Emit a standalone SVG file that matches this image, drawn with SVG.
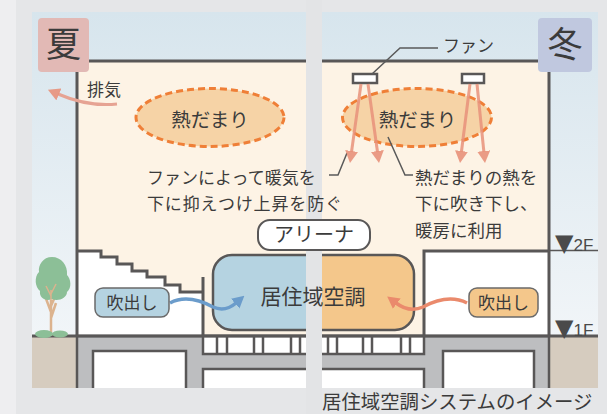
<svg xmlns="http://www.w3.org/2000/svg" width="607" height="414" viewBox="0 0 607 414">
  <style>
    text { font-family: "Noto Sans CJK JP", "Noto Sans", sans-serif; fill: #3b3b3b; }
    .wall { fill: none; stroke: #595757; stroke-width: 3; }
    .thin { fill: none; stroke: #595757; stroke-width: 1.6; }
    .leader { fill: none; stroke: #5a5a5a; stroke-width: 1.5; }
    .heat { fill: #f6d3a6; stroke: #ef7f37; stroke-width: 3; stroke-dasharray: 7 4; }
    .fan { fill: #ffffff; stroke: #595757; stroke-width: 2.5; }
    .pinkArrow { fill: none; stroke: #e8917a; stroke-width: 3; stroke-opacity: 0.85; }
    .cell { stroke: #595757; stroke-width: 2.5; }
    .tag { stroke: #6a6a6a; stroke-width: 1.5; }
    .level { font-family: "Liberation Sans", "DejaVu Sans", sans-serif; fill: #4a4a4a; font-size: 17px; }
    .tri { font-family: "DejaVu Sans", sans-serif; font-size: 24px; }
  </style>
  <defs>
    <linearGradient id="sky" x1="0" y1="0" x2="0" y2="1">
      <stop offset="0" stop-color="#d7e5ed"/>
      <stop offset="1" stop-color="#f1f5f8"/>
    </linearGradient>
    <clipPath id="panel">
      <rect x="32" y="12" width="566" height="376"/>
    </clipPath>
    <marker id="headPink" viewBox="0 0 12 13" refX="1" refY="6.5" markerWidth="12" markerHeight="13" markerUnits="userSpaceOnUse" orient="auto">
      <path d="M0,0 L12,6.5 L0,13 z" fill="#e8917a" fill-opacity="0.9"/>
    </marker>
    <marker id="headBlue" viewBox="0 0 12 13" refX="1" refY="6.5" markerWidth="12" markerHeight="13" markerUnits="userSpaceOnUse" orient="auto">
      <path d="M0,0 L12,6.5 L0,13 z" fill="#6b9ccb"/>
    </marker>
    <marker id="headRed" viewBox="0 0 12 13" refX="1" refY="6.5" markerWidth="12" markerHeight="13" markerUnits="userSpaceOnUse" orient="auto">
      <path d="M0,0 L12,6.5 L0,13 z" fill="#ea8a6c"/>
    </marker>
  </defs>

  <!-- page background -->
  <rect x="0" y="0" width="607" height="414" fill="#e5e6e8"/>
  <rect x="0" y="0" width="16" height="414" fill="#eeeef0"/>

  <g id="building" clip-path="url(#panel)">
    <!-- sky -->
    <rect x="32" y="12" width="566" height="324" fill="url(#sky)"/>
    <!-- ground outside -->
    <rect x="32" y="336" width="45" height="56" fill="#d6ccbf"/>
    <rect x="549" y="336" width="49" height="56" fill="#d6ccbf"/>
    <!-- interior -->
    <rect x="77" y="61" width="472" height="275" fill="#fdf3e5"/>
    <!-- space under the stand -->
    <path d="M77,251 H101 V257 H117 V264 H132 V271 H147 V277 H165 V285 H180 V292 H203 V336 H77 Z" fill="#ffffff"/>
    <!-- ground-floor room on the right -->
    <rect x="424" y="251" width="125" height="85" fill="#ffffff"/>

    <!-- stand steps -->
    <path class="wall" d="M77,251 H101 V257 H117 V264 H132 V271 H147 V277 H165 V285 H180 V292 H203"/>
    <path class="wall" d="M203,277 V336"/>
    <!-- 2F slab -->
    <path class="wall" d="M424,336 V251 H549"/>
    <path class="thin" d="M549,250.5 H598"/>
    <!-- outer walls and roof -->
    <path class="wall" d="M77,336 V61 H549 V336"/>

    <!-- foundation -->
    <rect x="77" y="336" width="472" height="60" fill="#bdbec0" stroke="#595757" stroke-width="2.5"/>
    <rect x="93" y="351" width="93" height="45" fill="#ffffff" stroke="#595757" stroke-width="2.5"/>
    <rect x="203" y="369" width="221" height="27" fill="#ffffff" stroke="#595757" stroke-width="2.5"/>
    <rect x="443" y="351" width="91" height="45" fill="#ffffff" stroke="#595757" stroke-width="2.5"/>
    <!-- under-floor plenum grid -->
    <rect x="203" y="336" width="221" height="18" fill="#ffffff" stroke="#595757" stroke-width="2.5"/>
    <g class="cell">
      <line x1="217" y1="336" x2="217" y2="354"/>
      <line x1="227" y1="336" x2="227" y2="354"/>
      <line x1="254" y1="336" x2="254" y2="354"/>
      <line x1="263" y1="336" x2="263" y2="354"/>
      <line x1="291" y1="336" x2="291" y2="354"/>
      <line x1="300" y1="336" x2="300" y2="354"/>
      <line x1="328" y1="336" x2="328" y2="354"/>
      <line x1="337" y1="336" x2="337" y2="354"/>
      <line x1="363" y1="336" x2="363" y2="354"/>
      <line x1="372" y1="336" x2="372" y2="354"/>
      <line x1="401" y1="336" x2="401" y2="354"/>
      <line x1="410" y1="336" x2="410" y2="354"/>
    </g>
    <!-- ground line -->
    <path class="wall" d="M32,336 H598"/>
  </g>

  <g id="tree">
    <path d="M51,336 V300 M51,312 L45,296 M51,306 L57,292 M51,318 L56,303" fill="none" stroke="#dcb38e" stroke-width="2.5"/>
    <path d="M52,257 C43,257 38,265 39,272 C34,277 35,287 40,291 C39,298 46,302 52,299 C58,302 67,298 67,292 C72,288 71,279 67,275 C68,265 61,257 52,257 Z" fill="#8cbf97"/>
    <path d="M51,300 V290 M51,296 L46,286 M51,294 L56,284" fill="none" stroke="#dcb38e" stroke-width="1.5"/>
    <ellipse cx="44" cy="334" rx="9" ry="4" fill="#8cbf97"/>
    <ellipse cx="60" cy="334" rx="8" ry="3.5" fill="#8cbf97"/>
  </g>

  <g id="zone-ac">
    <clipPath id="zoneClip"><rect x="213" y="255" width="201" height="75" rx="19"/></clipPath>
    <g clip-path="url(#zoneClip)">
      <rect x="213" y="255" width="101" height="75" fill="#b5d3e1"/>
      <rect x="314" y="255" width="100" height="75" fill="#f4c78b"/>
    </g>
    <rect x="213" y="255" width="201" height="75" rx="19" fill="none" stroke="#595757" stroke-width="2.5"/>
  </g>

  <!-- summer / winter divider -->
  <rect x="306" y="0" width="16" height="414" fill="#e3e4e6"/>

  <g id="heat-left">
    <ellipse class="heat" cx="210" cy="117.5" rx="74" ry="29"/>
    <text x="210" y="127" font-size="19.5" text-anchor="middle">熱だまり</text>
  </g>
  <g id="heat-right">
    <ellipse class="heat" cx="417" cy="117.5" rx="74.5" ry="29"/>
    <text x="417.5" y="127" font-size="19.5" text-anchor="middle">熱だまり</text>
  </g>

  <g id="fans">
    <rect class="fan" x="353" y="74" width="24" height="9"/>
    <rect class="fan" x="462" y="74" width="22" height="9"/>
    <text x="443" y="52" font-size="17">ファン</text>
  </g>

  <g id="connectors">
    <path class="leader" d="M438,48 H400 L372,74"/>
    <path class="leader" d="M388,137 L405,175 H413"/>
    <path class="leader" d="M329,175 H338 L347,153"/>
    <path class="pinkArrow" d="M361,84 L351.5,152" marker-end="url(#headPink)"/>
    <path class="pinkArrow" d="M368,84 L377.5,152" marker-end="url(#headPink)"/>
    <path class="pinkArrow" d="M470,84 L461.4,152" marker-end="url(#headPink)"/>
    <path class="pinkArrow" d="M477,84 L483.9,152" marker-end="url(#headPink)"/>
    <path d="M117,104 Q88,107 58,94" fill="none" stroke="#e6a393" stroke-width="3" marker-end="url(#headPink)"/>
    <path d="M170,303 C185,295 200,300 213,307 C222,311 229,309 236,303" fill="none" stroke="#6b9ccb" stroke-width="3.5" marker-end="url(#headBlue)"/>
    <path d="M467,303 C451,295 436,300 423,307 C414,311 404,309 396,303" fill="none" stroke="#ea8a6c" stroke-width="3.5" marker-end="url(#headRed)"/>
  </g>

  <g id="season-summer">
    <rect x="38" y="18" width="51" height="54" rx="4" fill="#e2b9b5"/>
    <text x="63.5" y="57" font-size="35" text-anchor="middle">夏</text>
  </g>
  <g id="season-winter">
    <rect x="538" y="18" width="54" height="54" rx="4" fill="#c0c8df"/>
    <text x="565" y="57" font-size="35" text-anchor="middle">冬</text>
  </g>

  <g id="exhaust">
    <text x="87" y="96" font-size="17">排気</text>
  </g>

  <g id="note-summer">
    <text x="147" y="184" font-size="17">ファンによって暖気を</text>
    <text x="147" y="210" font-size="17" textLength="195" lengthAdjust="spacing">下に抑えつけ上昇を防ぐ</text>
  </g>
  <g id="note-winter">
    <text x="415" y="184" font-size="17.5">熱だまりの熱を</text>
    <text x="415" y="210" font-size="17.5">下に吹き下し、</text>
    <text x="415" y="237" font-size="17.5">暖房に利用</text>
  </g>

  <g id="arena">
    <rect x="258" y="220" width="112" height="30" rx="12" fill="#ffffff" stroke="#595757" stroke-width="2"/>
    <text x="314" y="242" font-size="20" text-anchor="middle">アリーナ</text>
  </g>

  <g id="zone-ac-label">
    <text x="313" y="304" font-size="21" text-anchor="middle">居住域空調</text>
  </g>

  <g id="outlet-left">
    <rect class="tag" x="95" y="288" width="74" height="29" rx="8" fill="#b5d3e1"/>
    <text x="132" y="309" font-size="17" text-anchor="middle">吹出し</text>
  </g>
  <g id="outlet-right">
    <rect class="tag" x="469" y="288" width="69" height="29" rx="8" fill="#f4c78b"/>
    <text x="503.5" y="309" font-size="17" text-anchor="middle">吹出し</text>
  </g>

  <g id="levels">
    <text class="level" x="555" y="251"><tspan class="tri">▼</tspan>2F</text>
    <text class="level" x="555" y="336"><tspan class="tri">▼</tspan>1F</text>
  </g>

  <text x="322" y="409" font-size="19.4" fill="#4a4a4a">居住域空調システムのイメージ</text>
</svg>
